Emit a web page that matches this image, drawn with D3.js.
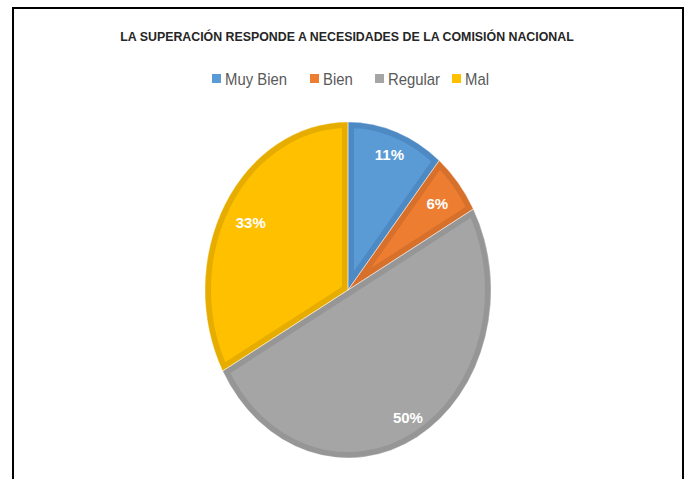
<!DOCTYPE html>
<html>
<head>
<meta charset="utf-8">
<script src="https://cdn.jsdelivr.net/npm/d3@7"></script>
<style>
  body { margin: 0; background: #fff; }
  svg { display: block; }
</style>
</head>
<body>
<script>
// chart data
var categories = ["Muy Bien", "Bien", "Regular", "Mal"];
var values = [11, 6, 50, 33];
var fills = ["#5B9BD5", "#ED7D31", "#A5A5A5", "#FFC000"];
var edges = ["#4D8AC4", "#D6702B", "#969696", "#E6AD00"];
var labelRadius = [0.855, 0.81, 0.87, 0.79];
var title = "LA SUPERACIÓN RESPONDE A NECESIDADES DE LA COMISIÓN NACIONAL";

var W = 688, H = 479;
var cx = 348, cy = 290, rx = 143, ry = 168;
var font = "'Liberation Sans', Arial, sans-serif";

var svg = d3.select("body").append("svg")
    .attr("width", W)
    .attr("height", H);

/*** frame ***/
svg.append("path")
    .attr("d", "M13,479 L13,8 L683,8 L683,479")
    .attr("fill", "none")
    .attr("stroke", "#000")
    .attr("stroke-width", 2);

/*** title ***/
svg.append("text")
    .attr("transform", "translate(347,41) scale(0.99,1)")
    .attr("text-anchor", "middle")
    .attr("font-family", font)
    .attr("font-size", 12.5)
    .attr("font-weight", "bold")
    .attr("fill", "#262626")
    .text(title);

/*** legend ***/
var legendX = [212, 310, 375, 452];
var legend = svg.append("g").selectAll("g")
    .data(categories)
    .enter().append("g")
    .attr("transform", function(d, i) { return "translate(" + legendX[i] + ",79)"; });
legend.append("rect")
    .attr("x", 0).attr("y", -5)
    .attr("width", 9).attr("height", 9)
    .attr("fill", function(d, i) { return fills[i]; });
legend.append("text")
    .attr("transform", "translate(13,5.5) scale(0.93,1)")
    .attr("font-family", font)
    .attr("font-size", 16)
    .attr("fill", "#595959")
    .text(function(d) { return d; });

/*** pie ***/
var pie = d3.pie().sort(null).value(function(d) { return d; });
var arcs = pie(values);
var arc = d3.arc().innerRadius(0).outerRadius(ry);

var defs = svg.append("defs");
defs.selectAll("clipPath")
    .data(arcs)
    .enter().append("clipPath")
    .attr("id", function(d, i) { return "clip" + i; })
    .append("path")
    .attr("d", arc);

var pieG = svg.append("g")
    .attr("transform", "translate(" + cx + "," + cy + ") scale(" + (rx / ry) + ",1)");

pieG.selectAll("path.slice")
    .data(arcs)
    .enter().append("path")
    .attr("class", "slice")
    .attr("d", arc)
    .attr("fill", function(d, i) { return fills[i]; })
    .attr("stroke", function(d, i) { return edges[i]; })
    .attr("stroke-width", 12)
    .attr("vector-effect", "non-scaling-stroke")
    .attr("clip-path", function(d, i) { return "url(#clip" + i + ")"; });

// thin light seams between slices
pieG.selectAll("path.seam")
    .data(arcs)
    .enter().append("path")
    .attr("class", "seam")
    .attr("d", arc)
    .attr("fill", "none")
    .attr("stroke", "#ffffff")
    .attr("stroke-opacity", 0.5)
    .attr("stroke-width", 0.8)
    .attr("vector-effect", "non-scaling-stroke");

/*** data labels ***/
svg.append("g").selectAll("text")
    .data(arcs)
    .enter().append("text")
    .attr("x", function(d, i) {
      var c = d3.arc().innerRadius(labelRadius[i]).outerRadius(labelRadius[i]).centroid(d);
      return cx + c[0] * rx;
    })
    .attr("y", function(d, i) {
      var c = d3.arc().innerRadius(labelRadius[i]).outerRadius(labelRadius[i]).centroid(d);
      return cy + c[1] * ry;
    })
    .attr("dy", "0.35em")
    .attr("text-anchor", "middle")
    .attr("font-family", font)
    .attr("font-size", 15)
    .attr("font-weight", "bold")
    .attr("fill", "#fff")
    .text(function(d) { return d.value + "%"; });
</script>
</body>
</html>
